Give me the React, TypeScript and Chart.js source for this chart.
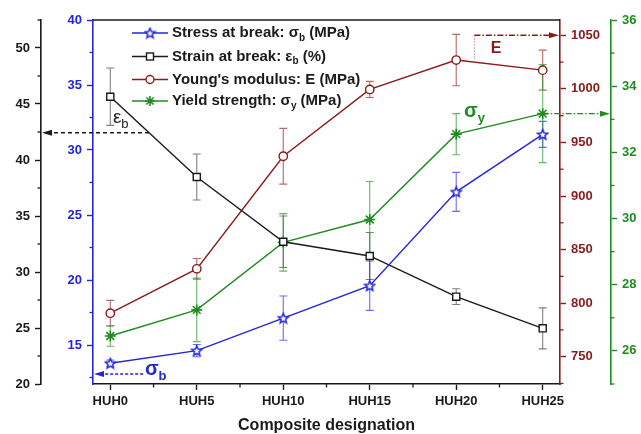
import React, { useEffect, useRef } from 'react';
import { Chart, registerables } from 'chart.js';

Chart.register(...registerables);

// ---------- data ----------
const categories = ['HUH0', 'HUH5', 'HUH10', 'HUH15', 'HUH20', 'HUH25'];
const stressAtBreak = [13.6, 14.57, 17.07, 19.56, 26.78, 31.2];
const stressErr = [0.25, 0.47, 1.7, 1.9, 1.5, 1.0];
const strainAtBreak = [45.65, 38.48, 32.7, 31.43, 27.8, 24.97];
const strainErr = [2.56, 2.05, 2.3, 2.1, 0.7, 1.83];
const youngsModulus = [790.6, 832, 937.1, 999.5, 1026.9, 1017.5];
const modulusErr = [12, 9.7, 26, 7.5, 24, 18.7];
const yieldStrength = [26.45, 27.24, 29.28, 29.97, 32.55, 33.17];
const yieldErr = [0.31, 0.96, 0.87, 1.15, 0.62, 1.48];

const strainTicks = [20, 25, 30, 35, 40, 45, 50];
const strainMinor = [22.5, 27.5, 32.5, 37.5, 42.5, 47.5, 52.5];
const stressTicks = [15, 20, 25, 30, 35, 40];
const stressMinor = [12.5, 17.5, 22.5, 27.5, 32.5, 37.5];
const modulusTicks = [750, 800, 850, 900, 950, 1000, 1050];
const modulusMinor = [725, 775, 825, 875, 925, 975, 1025];
const yieldTicks = [26, 28, 30, 32, 34, 36];
const yieldMinor = [25, 27, 29, 31, 33, 35];
const xMinor = [0.5, 1.5, 2.5, 3.5, 4.5];

// annotation anchors (data units)
const strainArrowValue = 42.44;
const stressArrowValue = 12.77;
const stressArrowStartX = 0.38;
const modulusArrowValue = 1050;
const modulusArrowX = 4.21;

const FONT = '"Liberation Sans", Arial, Helvetica, sans-serif';
const BLUE = '#2424dc';
const BLACK = '#1a1a1a';
const RED = '#8b1a1a';
const GREEN = '#1f8c1f';

function makeStar(color: string, size: number) {
  const c = document.createElement('canvas');
  c.width = size;
  c.height = size;
  const ctx = c.getContext('2d')!;
  const cx = size / 2, cy = size / 2 + 0.5;
  const R = size / 2 - 1.2, r = R * 0.45;
  ctx.beginPath();
  for (let i = 0; i < 10; i++) {
    const a = -Math.PI / 2 + (i * Math.PI) / 5;
    const rad = i % 2 === 0 ? R : r;
    ctx.lineTo(cx + rad * Math.cos(a), cy + rad * Math.sin(a));
  }
  ctx.closePath();
  ctx.fillStyle = '#fff';
  ctx.fill();
  ctx.strokeStyle = color;
  ctx.lineWidth = 1.5;
  ctx.stroke();
  return c;
}

type Part = { t: string; sub?: boolean };

function drawRich(ctx: CanvasRenderingContext2D, parts: Part[], x: number, y: number, size: number, subSize: number, color: string, weight = 'bold') {
  ctx.save();
  ctx.fillStyle = color;
  ctx.textBaseline = 'middle';
  ctx.textAlign = 'left';
  let cx = x;
  for (const p of parts) {
    if (p.sub) {
      ctx.font = `${weight} ${subSize}px ${FONT}`;
      ctx.fillText(p.t, cx, y + size * 0.33);
    } else {
      ctx.font = `${weight} ${size}px ${FONT}`;
      ctx.fillText(p.t, cx, y);
    }
    cx += ctx.measureText(p.t).width;
  }
  ctx.restore();
}

function arrowHead(ctx: CanvasRenderingContext2D, tipX: number, tipY: number, dir: number, color: string) {
  ctx.save();
  ctx.fillStyle = color;
  ctx.beginPath();
  ctx.moveTo(tipX, tipY);
  ctx.lineTo(tipX - dir * 10, tipY - 3);
  ctx.lineTo(tipX - dir * 10, tipY + 3);
  ctx.closePath();
  ctx.fill();
  ctx.restore();
}

export default function App() {
  const ref = useRef<HTMLCanvasElement>(null);

  useEffect(() => {
    const starImg = makeStar(BLUE, 13);
    const series = [
      { axis: 'yStress', values: stressAtBreak, err: stressErr, color: 'rgba(60,60,230,0.75)' },
      { axis: 'yStrain', values: strainAtBreak, err: strainErr, color: 'rgba(40,40,40,0.6)' },
      { axis: 'yModulus', values: youngsModulus, err: modulusErr, color: 'rgba(150,40,40,0.7)' },
      { axis: 'yYield', values: yieldStrength, err: yieldErr, color: 'rgba(40,150,40,0.7)' },
    ];

    const errorPlugin = {
      id: 'errbars',
      beforeDatasetsDraw(chart: any) {
        const ctx = chart.ctx as CanvasRenderingContext2D;
        const xs = chart.scales.x;
        series.forEach((s) => {
          const ys = chart.scales[s.axis];
          ctx.save();
          ctx.strokeStyle = s.color;
          ctx.lineWidth = 1.1;
          s.values.forEach((v, i) => {
            const px = xs.getPixelForValue(i);
            const top = ys.getPixelForValue(v + s.err[i]);
            const bot = ys.getPixelForValue(v - s.err[i]);
            ctx.beginPath();
            ctx.moveTo(px, top);
            ctx.lineTo(px, bot);
            ctx.moveTo(px - 4, top);
            ctx.lineTo(px + 4, top);
            ctx.moveTo(px - 4, bot);
            ctx.lineTo(px + 4, bot);
            ctx.stroke();
          });
          ctx.restore();
        });
        // top frame
        const ca = chart.chartArea;
        ctx.save();
        ctx.strokeStyle = BLACK;
        ctx.lineWidth = 1.5;
        ctx.beginPath();
        ctx.moveTo(ca.left, ca.top);
        ctx.lineTo(ca.right, ca.top);
        ctx.stroke();
        ctx.restore();
      },
    };

    const minorPlugin = {
      id: 'minorTicks',
      afterDraw(chart: any) {
        const ctx = chart.ctx as CanvasRenderingContext2D;
        const defs = [
          { id: 'yStrain', vals: strainMinor, side: 'left', color: BLACK },
          { id: 'yStress', vals: stressMinor, side: 'left', color: BLUE },
          { id: 'yModulus', vals: modulusMinor, side: 'right', color: RED },
          { id: 'yYield', vals: yieldMinor, side: 'right', color: GREEN },
          { id: 'x', vals: xMinor, side: 'bottom', color: BLACK },
        ];
        ctx.save();
        ctx.lineWidth = 1.3;
        defs.forEach((d) => {
          const sc = chart.scales[d.id];
          ctx.strokeStyle = d.color;
          d.vals.forEach((v) => {
            const p = sc.getPixelForValue(v);
            ctx.beginPath();
            if (d.side === 'left') {
              ctx.moveTo(sc.right, p);
              ctx.lineTo(sc.right - 3.5, p);
            } else if (d.side === 'right') {
              ctx.moveTo(sc.left, p);
              ctx.lineTo(sc.left + 3.5, p);
            } else {
              ctx.moveTo(p, sc.top);
              ctx.lineTo(p, sc.top + 3.5);
            }
            ctx.stroke();
          });
        });
        ctx.restore();
      },
    };

    const annotPlugin = {
      id: 'annot',
      afterDatasetsDraw(chart: any) {
        const ctx = chart.ctx as CanvasRenderingContext2D;
        const xs = chart.scales.x;
        const yStrain = chart.scales.yStrain;
        const yStress = chart.scales.yStress;
        const yModulus = chart.scales.yModulus;
        const yYield = chart.scales.yYield;

        // strain arrow: from intersection with strain line to strain axis
        const t = (strainAtBreak[0] - strainArrowValue) / (strainAtBreak[0] - strainAtBreak[1]);
        const sx = xs.getPixelForValue(t);
        const sy = yStrain.getPixelForValue(strainArrowValue);
        ctx.save();
        ctx.strokeStyle = BLACK;
        ctx.lineWidth = 1.5;
        ctx.setLineDash([4, 3]);
        ctx.beginPath();
        ctx.moveTo(sx, sy);
        ctx.lineTo(yStrain.right + 8, sy);
        ctx.stroke();
        ctx.restore();
        arrowHead(ctx, yStrain.right + 1, sy, -1, BLACK);
        drawRich(ctx, [{ t: 'ε' }, { t: 'b', sub: true }], xs.getPixelForValue(0.03), yStrain.getPixelForValue(43.75), 19, 13, BLACK, 'normal');

        // stress arrow
        const by = yStress.getPixelForValue(stressArrowValue);
        ctx.save();
        ctx.strokeStyle = BLUE;
        ctx.lineWidth = 1.4;
        ctx.setLineDash([3, 2]);
        ctx.beginPath();
        ctx.moveTo(xs.getPixelForValue(stressArrowStartX), by);
        ctx.lineTo(yStress.right + 8, by);
        ctx.stroke();
        ctx.restore();
        arrowHead(ctx, yStress.right + 1, by, -1, BLUE);
        drawRich(ctx, [{ t: 'σ' }, { t: 'b', sub: true }], xs.getPixelForValue(0.4), yStress.getPixelForValue(13.1), 20, 13, BLUE);

        // modulus arrow
        const ex = xs.getPixelForValue(modulusArrowX);
        const ey = yModulus.getPixelForValue(modulusArrowValue);
        ctx.save();
        ctx.strokeStyle = 'rgba(160,60,60,0.6)';
        ctx.lineWidth = 1;
        ctx.setLineDash([1.5, 1.5]);
        ctx.beginPath();
        ctx.moveTo(ex, ey);
        ctx.lineTo(ex, yModulus.getPixelForValue(youngsModulus[4]));
        ctx.stroke();
        ctx.strokeStyle = RED;
        ctx.lineWidth = 1.4;
        ctx.setLineDash([6, 2, 1.5, 2]);
        ctx.beginPath();
        ctx.moveTo(ex, ey);
        ctx.lineTo(yModulus.left - 8, ey);
        ctx.stroke();
        ctx.restore();
        arrowHead(ctx, yModulus.left - 1, ey, 1, RED);
        ctx.save();
        ctx.fillStyle = RED;
        ctx.font = `bold 16px ${FONT}`;
        ctx.textAlign = 'center';
        ctx.textBaseline = 'middle';
        ctx.fillText('E', xs.getPixelForValue(4.46), yModulus.getPixelForValue(1037.8));
        ctx.restore();

        // yield arrow
        const gx = xs.getPixelForValue(5);
        const gy = yYield.getPixelForValue(yieldStrength[5]);
        ctx.save();
        ctx.strokeStyle = GREEN;
        ctx.lineWidth = 1.4;
        ctx.setLineDash([6, 2, 1.5, 2]);
        ctx.beginPath();
        ctx.moveTo(gx, gy);
        ctx.lineTo(yYield.left - 8, gy);
        ctx.stroke();
        ctx.restore();
        arrowHead(ctx, yYield.left - 1, gy, 1, GREEN);
        drawRich(ctx, [{ t: 'σ' }, { t: 'y', sub: true }], xs.getPixelForValue(4.09), yYield.getPixelForValue(33.24), 20, 13, GREEN);

        // legend
        const items = [
          { parts: [{ t: 'Stress at break: σ' }, { t: 'b', sub: true }, { t: ' (MPa)' }], color: BLUE, mk: 'star' },
          { parts: [{ t: 'Strain at break: ε' }, { t: 'b', sub: true }, { t: ' (%)' }], color: BLACK, mk: 'rect' },
          { parts: [{ t: "Young's modulus: E (MPa)" }], color: RED, mk: 'circle' },
          { parts: [{ t: 'Yield strength: σ' }, { t: 'y', sub: true }, { t: ' (MPa)' }], color: GREEN, mk: 'ast' },
        ];
        const rowsY = [33, 56.5, 79.5, 101];
        items.forEach((it, k) => {
          const y = rowsY[k];
          ctx.save();
          ctx.strokeStyle = it.color;
          ctx.lineWidth = 1.4;
          ctx.beginPath();
          ctx.moveTo(132, y);
          ctx.lineTo(168, y);
          ctx.stroke();
          const mx = 150;
          if (it.mk === 'star') {
            ctx.drawImage(starImg, mx - starImg.width / 2, y - starImg.height / 2);
          } else if (it.mk === 'rect') {
            ctx.fillStyle = '#fff';
            ctx.fillRect(mx - 3.5, y - 3.5, 7, 7);
            ctx.strokeRect(mx - 3.5, y - 3.5, 7, 7);
          } else if (it.mk === 'circle') {
            ctx.fillStyle = '#fff';
            ctx.beginPath();
            ctx.arc(mx, y, 4, 0, Math.PI * 2);
            ctx.fill();
            ctx.stroke();
          } else {
            ctx.lineWidth = 1.6;
            ctx.beginPath();
            for (let a = 0; a < 4; a++) {
              const ang = (a * Math.PI) / 4;
              ctx.moveTo(mx - 5 * Math.cos(ang), y - 5 * Math.sin(ang));
              ctx.lineTo(mx + 5 * Math.cos(ang), y + 5 * Math.sin(ang));
            }
            ctx.stroke();
          }
          ctx.restore();
          drawRich(ctx, it.parts, 172, y, 15, 10, BLACK);
        });
      },
    };

    const tickFont = { family: FONT, size: 13, weight: 'bold' as const };
    const yAxis = (
      pos: 'left' | 'right',
      color: string,
      min: number,
      max: number,
      ticks: number[],
      width: number,
      weight: number,
    ) => ({
      type: 'linear' as const,
      position: pos,
      min,
      max,
      weight,
      afterBuildTicks: (axis: any) => {
        axis.ticks = ticks.map((v) => ({ value: v }));
      },
      afterFit: (axis: any) => {
        axis.width = width;
      },
      grid: { drawOnChartArea: false, tickLength: 6, tickColor: color, tickWidth: 1.4 },
      border: { color, width: 1.6 },
      ticks: { color, font: tickFont, padding: 5, autoSkip: false, callback: (v: any) => String(v) },
    });

    const chart = new Chart(ref.current!, {
      type: 'line',
      data: {
        datasets: [
          {
            label: 'Stress at break',
            data: stressAtBreak.map((v, i) => ({ x: i, y: v })),
            yAxisID: 'yStress',
            xAxisID: 'x',
            borderColor: BLUE,
            backgroundColor: '#fff',
            borderWidth: 1.4,
            pointStyle: starImg as any,
            pointRadius: 6,
          },
          {
            label: 'Strain at break',
            data: strainAtBreak.map((v, i) => ({ x: i, y: v })),
            yAxisID: 'yStrain',
            xAxisID: 'x',
            borderColor: BLACK,
            backgroundColor: '#fff',
            borderWidth: 1.4,
            pointStyle: 'rect',
            pointRadius: 5,
            pointBorderWidth: 1.4,
          },
          {
            label: "Young's modulus",
            data: youngsModulus.map((v, i) => ({ x: i, y: v })),
            yAxisID: 'yModulus',
            xAxisID: 'x',
            borderColor: RED,
            backgroundColor: '#fff',
            borderWidth: 1.4,
            pointStyle: 'circle',
            pointRadius: 4.2,
            pointBorderWidth: 1.4,
          },
          {
            label: 'Yield strength',
            data: yieldStrength.map((v, i) => ({ x: i, y: v })),
            yAxisID: 'yYield',
            xAxisID: 'x',
            borderColor: GREEN,
            backgroundColor: GREEN,
            borderWidth: 1.4,
            pointStyle: 'star',
            pointRadius: 5.5,
            pointBorderWidth: 1.6,
          },
        ],
      },
      options: {
        animation: false,
        responsive: false,
        devicePixelRatio: 1,
        layout: { padding: { top: 20, left: 0, right: 0, bottom: 0 } },
        plugins: { legend: { display: false }, tooltip: { enabled: false } },
        scales: {
          x: {
            type: 'linear',
            position: 'bottom',
            min: -0.2,
            max: 5.2,
            afterBuildTicks: (axis: any) => {
              axis.ticks = categories.map((_, i) => ({ value: i }));
            },
            afterFit: (axis: any) => {
              axis.height = 50;
            },
            grid: { drawOnChartArea: false, tickLength: 6, tickColor: BLACK, tickWidth: 1.4 },
            border: { color: BLACK, width: 1.6 },
            ticks: {
              color: BLACK,
              font: tickFont,
              padding: 4,
              autoSkip: false,
              maxRotation: 0,
              callback: (v: any) => categories[Math.round(Number(v))] ?? '',
            },
            title: {
              display: true,
              text: 'Composite designation',
              color: BLACK,
              font: { family: FONT, size: 16, weight: 'bold' },
              padding: { top: 0, bottom: -1 },
            },
          },
          yStress: yAxis('left', BLUE, 12, 40, stressTicks, 52, 0),
          yStrain: yAxis('left', BLACK, 20, 52.5, strainTicks, 41, 1),
          yModulus: yAxis('right', RED, 724.5, 1064.3, modulusTicks, 51, 0),
          yYield: yAxis('right', GREEN, 25, 36, yieldTicks, 30, 1),
        },
      } as any,
      plugins: [errorPlugin, minorPlugin, annotPlugin],
    });
    return () => chart.destroy();
  }, []);

  return (
    <div style={{ position: 'fixed', left: 0, top: 0, width: 641, height: 434, background: '#fff' }}>
      <canvas ref={ref} width={641} height={434} style={{ display: 'block', width: 641, height: 434 }} />
    </div>
  );
}
